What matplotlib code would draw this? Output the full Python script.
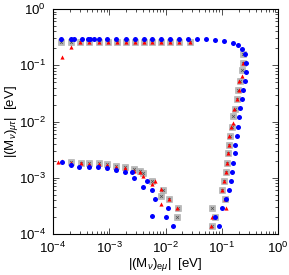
import matplotlib
matplotlib.use("Agg")
import matplotlib.pyplot as plt
from matplotlib.ticker import LogLocator, NullFormatter

plt.rcParams['font.family'] = ['Liberation Sans', 'DejaVu Sans']
plt.rcParams['mathtext.fontset'] = 'custom'
plt.rcParams['mathtext.rm'] = 'Liberation Sans'
plt.rcParams['mathtext.it'] = 'Liberation Sans:italic'
plt.rcParams['mathtext.bf'] = 'Liberation Sans:bold'

# ---- data: blue circles ----
blue_x = [1.39e-4, 2.09e-4, 2.36e-4, 3.28e-4, 4.19e-4, 4.55e-4, 5.36e-4, 6.58e-4, 9.12e-4,
          1.32e-3, 1.99e-3, 2.87e-3, 4.15e-3, 5.75e-3, 8.32e-3, 1.20e-2, 1.74e-2, 2.51e-2,
          3.63e-2, 5.25e-2, 7.59e-2, 0.110, 0.158, 0.195, 0.229, 0.259, 0.270, 0.270, 0.259,
          0.239, 0.229, 0.211, 0.203, 0.195, 0.187, 0.172, 0.172, 0.158, 0.152, 0.146, 0.135,
          0.119, 0.101, 0.0759, 0.0893,
          1.45e-4, 2.09e-4, 2.90e-4, 4.37e-4, 6.31e-4, 9.12e-4, 1.32e-3, 1.91e-3, 2.54e-3,
          2.75e-3, 3.98e-3, 4.69e-3, 5.75e-3, 6.5e-3, 1.11e-2, 5.75e-3, 1.02e-2, 1.36e-2]
blue_y = [0.293] * 20 + [0.281, 0.270, 0.249, 0.229, 0.194, 0.158, 0.110, 0.0759, 0.0525,
          0.0363, 0.0251, 0.0174, 0.0120, 7.98e-3, 5.52e-3, 3.82e-3, 2.75e-3, 1.83e-3,
          1.26e-3, 8.75e-4, 6.05e-4, 4.19e-4, 2.90e-4, 2.01e-4, 1.39e-4,
          1.91e-3, 1.69e-3, 1.55e-3, 1.55e-3, 1.55e-3, 1.49e-3, 1.37e-3, 1.26e-3, 1.26e-3,
          9.9e-4, 6.85e-4, 8.75e-4, 6.05e-4, 4.19e-4, 2.90e-4, 2.09e-4, 2.01e-4, 1.39e-4]

# ---- data: grey squares ----
grey_x = [1.39e-4, 2.09e-4, 3.02e-4, 4.37e-4, 6.58e-4, 9.5e-4, 1.37e-3, 1.99e-3, 2.87e-3,
          4.15e-3, 5.75e-3, 8.32e-3, 1.20e-2, 1.74e-2, 2.73e-2,
          0.239, 0.239, 0.229, 0.211, 0.195, 0.187, 0.172, 0.158, 0.152, 0.140, 0.135, 0.129,
          0.124, 0.119, 0.110, 0.101, 0.114, 0.0671, 0.0759, 0.0671,
          2.09e-4, 3.15e-4, 4.37e-4, 6.58e-4, 9.12e-4, 1.32e-3, 1.91e-3, 2.75e-3, 3.52e-3,
          3.98e-3, 5.75e-3, 9.03e-3, 8.32e-3, 1.15e-2, 1.67e-2, 1.60e-2]
grey_y = [0.259] * 15 + [0.158, 0.110, 0.0824, 0.0525, 0.0363, 0.0251, 0.0167, 0.0125,
          7.98e-3, 5.52e-3, 3.82e-3, 2.75e-3, 1.83e-3, 1.26e-3, 8.75e-4, 6.05e-4, 4.19e-4,
          2.90e-4, 2.01e-4, 1.39e-4,
          1.91e-3, 1.83e-3, 1.83e-3, 1.83e-3, 1.76e-3, 1.62e-3, 1.55e-3, 1.43e-3, 1.32e-3,
          1.21e-3, 8.75e-4, 6.05e-4, 4.74e-4, 4.19e-4, 2.90e-4, 2.01e-4]

# ---- data: red triangles ----
red_x = [1.45e-4, 2.09e-4, 3.02e-4, 4.37e-4, 6.58e-4, 9.5e-4, 1.37e-3, 1.99e-3, 2.87e-3,
         4.15e-3, 5.75e-3, 8.32e-3, 1.20e-2, 1.74e-2, 2.73e-2,
         0.239, 0.229, 0.203, 0.203, 0.187, 0.165, 0.158, 0.146, 0.135, 0.135, 0.129, 0.124,
         0.119, 0.110, 0.101, 0.114, 0.119, 0.0671, 0.0644,
         1.23e-4, 1.45e-4, 2.09e-4, 3.15e-4, 4.37e-4, 6.58e-4, 9.12e-4, 1.32e-3, 1.91e-3,
         2.75e-3, 3.52e-3, 3.98e-3, 6.5e-3, 5.75e-3, 8.32e-3, 1.15e-2, 8.32e-3, 1.60e-2]
red_y = [0.140, 0.211] + [0.259] * 13 + [0.110, 0.0644, 0.0525, 0.0363, 0.0251, 0.0167,
         9.4e-3, 7.98e-3, 5.52e-3, 3.82e-3, 2.75e-3, 1.83e-3, 1.26e-3, 8.75e-4, 6.05e-4,
         4.19e-4, 2.90e-4, 2.01e-4, 1.39e-4,
         1.91e-3, 1.99e-3, 1.83e-3, 1.83e-3, 1.76e-3, 1.76e-3, 1.69e-3, 1.55e-3, 1.49e-3,
         1.32e-3, 1.26e-3, 1.07e-3, 8.75e-4, 7.74e-4, 6.31e-4, 4.19e-4, 3.41e-4, 2.90e-4]

xlabel = r'$|(\mathrm{M}_{\nu})_{\mathrm{e}\mu}|$  [eV]'
ylabel = r'$|(\mathrm{M}_{\nu})_{\mu\tau}|$  [eV]'

fig = plt.figure(figsize=(2.89, 2.75), dpi=100)
ax = fig.add_axes([53 / 289, 1 - 234 / 275, 225 / 289, 225 / 275])

ax.plot(grey_x, grey_y, linestyle='none', marker='s', markersize=4.2,
        markerfacecolor='#b8b8b8', markeredgecolor='#a8a8a8', markeredgewidth=0.4)
ax.plot(grey_x, grey_y, linestyle='none', marker='x', markersize=2.0,
        color='#505050', markeredgewidth=0.5)
ax.plot(red_x, red_y, linestyle='none', marker='^', markersize=3.0,
        color='#ff0000', markeredgewidth=0.0)
ax.plot(blue_x, blue_y, linestyle='none', marker='o', markersize=3.6,
        color='#0000ff', markeredgewidth=0.0)

ax.set_xscale('log')
ax.set_yscale('log')
ax.set_xlim(1e-4, 1)
ax.set_ylim(1e-4, 1)

for a in (ax.xaxis, ax.yaxis):
    a.set_major_locator(LogLocator(base=10, numticks=10))
    a.set_minor_locator(LogLocator(base=10, subs=range(2, 10), numticks=10))
    a.set_minor_formatter(NullFormatter())

ax.tick_params(which='both', direction='in', top=True, right=True, labelsize=9.5,
               width=0.6, color='#333333')
ax.tick_params(which='major', length=4)
ax.tick_params(axis='x', which='major', pad=5)
ax.tick_params(axis='y', which='major', pad=5)
ax.tick_params(which='minor', length=2)
for s in ax.spines.values():
    s.set_linewidth(0.8)

ax.set_xlabel(xlabel, fontsize=9.5, labelpad=0)
ax.set_ylabel(ylabel, fontsize=9.5, labelpad=-1)

fig.savefig('out.png', dpi=100)
